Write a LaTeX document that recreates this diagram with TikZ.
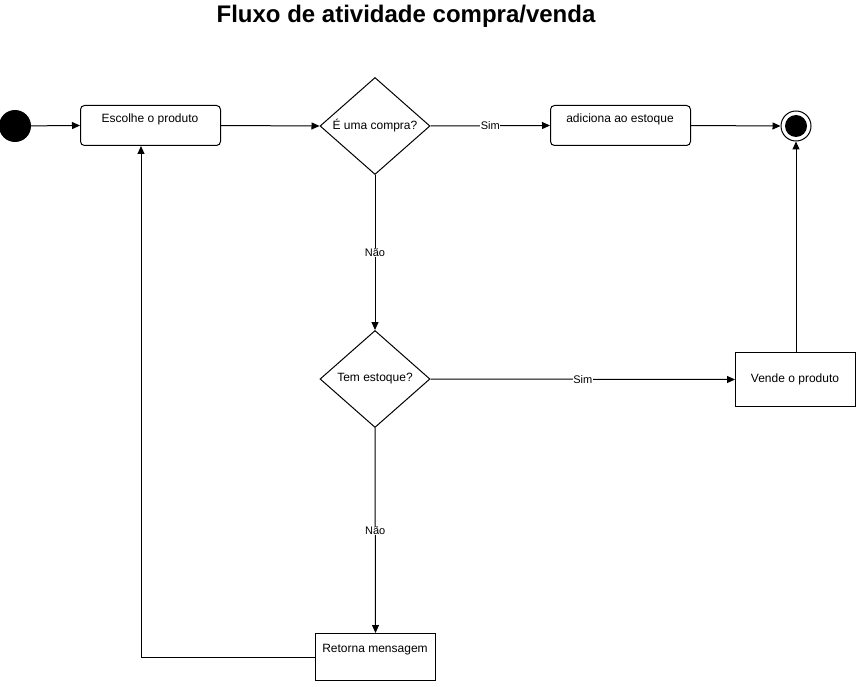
\documentclass[tikz,border=0pt]{standalone}
\usepackage{fontspec}
\setmainfont{Liberation Sans}
\usetikzlibrary{shapes.geometric,arrows.meta}
\begin{document}
\begin{tikzpicture}[x=1pt,y=-1pt,
  every node/.style={font=\fontsize{12}{14}\selectfont},
  conn/.style={draw=black,line width=1pt,-{Triangle[length=8pt,width=7pt]}},
  rbox/.style={draw=black,line width=1pt,rounded corners=4pt,minimum width=140pt,minimum height=40pt,anchor=north west,inner sep=0pt},
  sbox/.style={draw=black,line width=1pt,minimum width=120pt,anchor=north west,inner sep=0pt},
  dec/.style={draw=black,line width=1pt,diamond,aspect=1.134,minimum width=110pt,minimum height=97pt,inner sep=0pt},
  lbl/.style={fill=white,inner sep=0.5pt,font=\fontsize{11}{13}\selectfont}]
\useasboundingbox (0,0) rectangle (856,687);
\node[font=\fontsize{24}{28}\selectfont\bfseries] (title) at (406,16) {Fluxo de atividade compra/venda};
\node[circle,fill=black,minimum size=32pt,inner sep=0pt] (start) at (15,126) {};
\node[rbox] (esc) at (80,105) {};
\node (esct) at (150,119) {Escolhe o produto};
\node[dec] (d1) at (375,126) {};
\node (d1t) at (375,126) {É uma compra?};
\node[rbox] (add) at (550,105) {};
\node (addt) at (620,119) {adiciona ao estoque};
\node[circle,draw=black,line width=1pt,minimum size=30pt,inner sep=0pt] (end) at (796,126) {};
\node[circle,fill=black,minimum size=22pt,inner sep=0pt] (endc) at (796,126) {};
\node[dec] (d2) at (375,379) {};
\node (d2t) at (375,379) {Tem estoque?};
\node[sbox,minimum height=54pt] (vende) at (735,352) {};
\node (vendet) at (795,379) {Vende o produto};
\node[sbox,minimum height=47pt] (ret) at (315,633) {};
\node (rett) at (375,650) {Retorna mensagem};
\coordinate (c1) at (141,657);
\draw[conn] (start) -- (esc.west);
\draw[conn] (esc.east) -- (d1.west);
\draw[conn] (d1.east) -- node[lbl,pos=0.5] {Sim} (add.west);
\draw[conn] (add.east) -- (end.west);
\draw[conn] (d1.south) -- node[lbl,pos=0.5] {Não} (d2.north);
\draw[conn] (d2.east) -- node[lbl,pos=0.5] {Sim} (vende.west);
\draw[conn] (d2.south) -- node[lbl,pos=0.5] {Não} (ret.north);
\draw[conn] (vende.north -| end.south) -- (end.south);
\draw[conn] (ret.west) -- (c1) -- (c1 |- esc.south);
\end{tikzpicture}
\end{document}
